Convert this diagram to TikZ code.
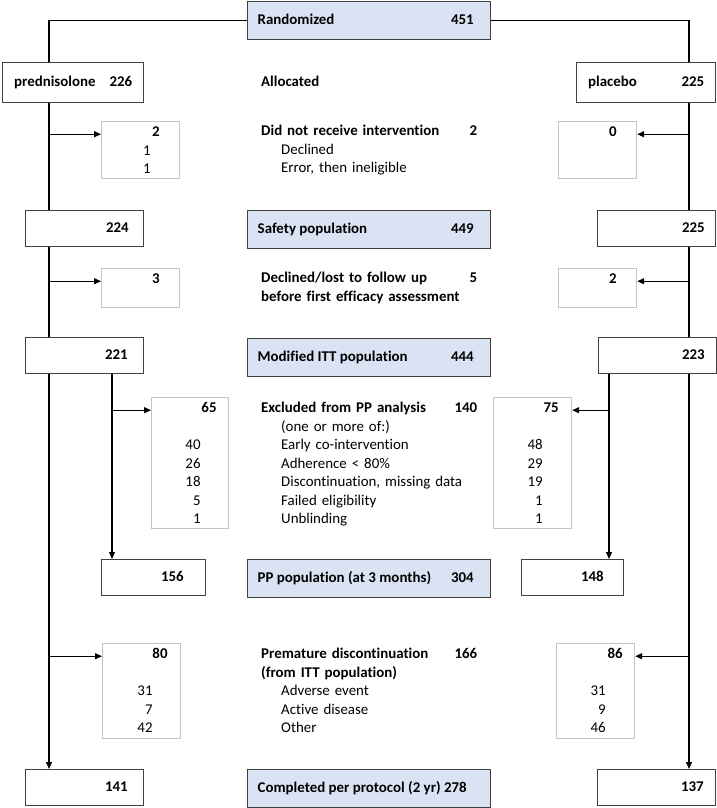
\documentclass[tikz,border=0pt]{standalone}
\usepackage{fontspec}
\setmainfont{Carlito}[Ligatures=CommonOff]
\usetikzlibrary{arrows.meta}
\definecolor{popblue}{HTML}{DAE3F3}
\definecolor{boxline}{HTML}{404040}
\definecolor{greyline}{HTML}{C4C4C4}
\newcommand{\chartfont}{\fontsize{14.9}{18.5}\selectfont}

\begin{document}
\begin{tikzpicture}[x=1pt,y=-1pt,font=\chartfont,
  every node/.style={inner sep=0pt,anchor=north west},
  cbox/.style={draw=boxline,line width=1.4pt,fill=popblue,minimum width=243pt,minimum height=38pt,text height=10pt,text depth=3pt,font=\chartfont\bfseries},
  sbox/.style={draw=boxline,line width=1.4pt,minimum height=36pt,text height=10pt,text depth=3pt,font=\chartfont\bfseries},
  gbox/.style={draw=greyline,line width=1.2pt,align=right,text height=15pt},
  lab/.style={anchor=base west,text width=216pt,align=left},
  flow/.style={line width=1.2pt},
  arr/.style={flow,-{Triangle[length=7pt,width=6pt]}}]
\useasboundingbox (0,0) rectangle (717,808);

\node[cbox] (rand) at (247,1) {\makebox[223pt][l]{Randomized\hfill 451\kern7pt}};
\node[sbox,minimum width=141pt,minimum height=40pt] (pred) at (2,62) {\makebox[118pt][l]{prednisolone\hfill 226}};
\node[sbox,minimum width=139pt,minimum height=40pt] (plac) at (576,62) {\makebox[116pt][l]{placebo\hfill 225}};
\node[lab] (alloc) at (261,86.5) {\textbf{Allocated}};

\node[gbox,minimum width=78pt,text width=38pt,text depth=42pt] (dniL) at (101,121) {\textbf{2}\\1\kern9pt\\1\kern9pt};
\node[lab] (dni) at (261,135.5) {{\bfseries Did not receive intervention\hspace{\fill}2}\\\hspace*{20pt}Declined\\\hspace*{20pt}Error, then ineligible};
\node[gbox,minimum width=78pt,text width=38pt,text depth=42pt] (dniR) at (558,121) {\textbf{0}};

\node[sbox,minimum width=118pt] (s224) at (25,210) {\makebox[88pt][r]{224}};
\node[cbox] (safe) at (247,210) {\makebox[223pt][l]{Safety population\hfill 449\kern7pt}};
\node[sbox,minimum width=118pt] (s225) at (597,210) {\makebox[96pt][r]{225}};

\node[gbox,minimum width=78pt,text width=38pt,text depth=24pt] (lostL) at (101,268) {\textbf{3}};
\node[lab] (lost) at (261,282.5) {{\bfseries Declined/lost to follow up\hspace{\fill}5\\before first efficacy assessment}};
\node[gbox,minimum width=78pt,text width=38pt,text depth=24pt] (lostR) at (558,268) {\textbf{2}};

\node[sbox,minimum width=118pt] (m221) at (25,337) {\makebox[86pt][r]{221}};
\node[cbox] (mitt) at (247,338) {\makebox[223pt][l]{Modified ITT population\hfill 444\kern7pt}};
\node[sbox,minimum width=118pt] (m223) at (598,337) {\makebox[94pt][r]{223}};

\node[gbox,minimum width=77pt,text width=53pt,text depth=116pt] (exL) at (151,397) {\textbf{65}\\[18.5pt]40\kern16pt\\26\kern16pt\\18\kern16pt\\5\kern16pt\\1\kern16pt};
\node[lab] (excl) at (261,412.5) {{\bfseries Excluded from PP analysis\hspace{\fill}140}\\\hspace*{20pt}(one or more of:)\\\hspace*{20pt}Early co-intervention\\\hspace*{20pt}Adherence < 80\%\\\hspace*{20pt}Discontinuation, missing data\\\hspace*{20pt}Failed eligibility\\\hspace*{20pt}Unblinding};
\node[gbox,minimum width=78pt,text width=52pt,text depth=116pt] (exR) at (493,397) {\textbf{75}\\[18.5pt]48\kern16pt\\29\kern16pt\\19\kern16pt\\1\kern16pt\\1\kern16pt};

\node[sbox,minimum width=104pt] (p156) at (101,559) {\makebox[60pt][r]{156}};
\node[cbox] (pp) at (247,559) {\makebox[223pt][l]{PP population (at 3 months)\hfill 304\kern7pt}};
\node[sbox,minimum width=102pt] (p148) at (521,559) {\makebox[62pt][r]{148}};

\node[gbox,minimum width=78pt,text width=52pt,text depth=80pt] (preL) at (102,643) {\textbf{80}\\[18.5pt]31\kern15pt\\7\kern15pt\\42\kern15pt};
\node[lab] (prem) at (261,658.5) {{\bfseries Premature discontinuation\hspace{\fill}166\\(from ITT population)}\\\hspace*{20pt}Adverse event\\\hspace*{20pt}Active disease\\\hspace*{20pt}Other};
\node[gbox,minimum width=78pt,text width=54pt,text depth=80pt] (preR) at (556,643) {\textbf{86}\\[18.5pt]31\kern17pt\\9\kern17pt\\46\kern17pt};

\node[sbox,minimum width=118pt] (c141) at (25,769) {\makebox[86pt][r]{141}};
\node[cbox] (comp) at (247,769) {\makebox[223pt][l]{Completed per protocol (2 yr) 278\hfill\kern7pt}};
\node[sbox,minimum width=118pt] (c137) at (597,769) {\makebox[94pt][r]{137}};

\coordinate (tl) at (49,0);
\coordinate (tr) at (689,0);
\coordinate (il) at (112,0);
\coordinate (ir) at (609,0);

\draw[flow] (rand.west) -| (pred.north -| tl);
\draw[flow] (rand.east) -| (plac.north -| tr);
\draw[flow] (pred.south -| tl) -- (s224.north -| tl);
\draw[flow] (plac.south -| tr) -- (s225.north -| tr);
\draw[arr] (dniL.mid west -| tl) -- (dniL.mid west);
\draw[arr] (dniR.mid east -| tr) -- (dniR.mid east);
\draw[flow] (s224.south -| tl) -- (m221.north -| tl);
\draw[flow] (s225.south -| tr) -- (m223.north -| tr);
\draw[arr] (lostL.mid west -| tl) -- (lostL.mid west);
\draw[arr] (lostR.mid east -| tr) -- (lostR.mid east);
\draw[arr] (m221.south -| tl) -- (c141.north -| tl);
\draw[arr] (m223.south -| tr) -- (c137.north -| tr);
\draw[arr] (m221.south -| il) -- (p156.north -| il);
\draw[arr] (m223.south -| ir) -- (p148.north -| ir);
\draw[arr] (exL.mid west -| il) -- (exL.mid west);
\draw[arr] (exR.mid east -| ir) -- (exR.mid east);
\draw[arr] (preL.mid west -| tl) -- (preL.mid west);
\draw[arr] (preR.mid east -| tr) -- (preR.mid east);
\end{tikzpicture}
\end{document}
